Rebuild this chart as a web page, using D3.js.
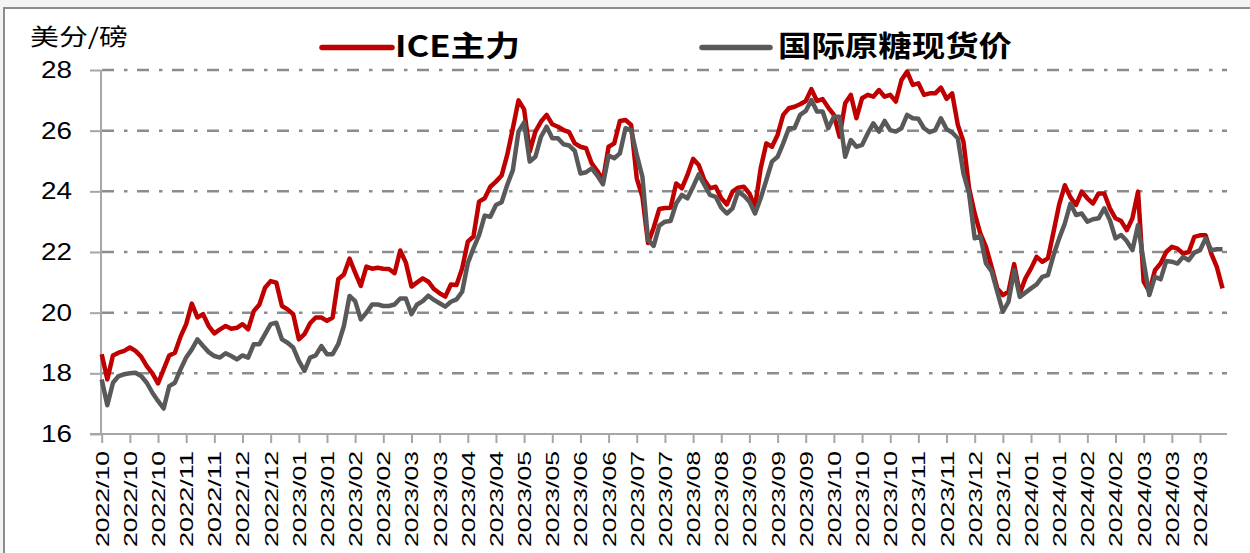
<!DOCTYPE html>
<html>
<head>
<meta charset="utf-8">
<script src="https://cdn.jsdelivr.net/npm/d3@7/dist/d3.min.js"></script>
<style>
  body { margin: 0; background: #f3f3f3; }
  svg { display: block; }
</style>
</head>
<body>
<div id="chart"></div>
<script>
// values, 5 points per axis tick
const iceMain = [
  18.63, 17.80, 18.59, 18.68, 18.74, 18.85, 18.74, 18.55, 18.24, 18.00,
  17.67, 18.13, 18.59, 18.68, 19.21, 19.62, 20.30, 19.84, 19.95, 19.56,
  19.32, 19.45, 19.56, 19.47, 19.50, 19.62, 19.45, 20.05, 20.27, 20.82,
  21.04, 20.99, 20.22, 20.11, 19.95, 19.12, 19.29, 19.65, 19.84, 19.84,
  19.73, 19.84, 21.10, 21.26, 21.78, 21.32, 20.88, 21.52, 21.45, 21.48,
  21.45, 21.44, 21.30, 22.05, 21.65, 20.86, 21.00, 21.13, 21.02, 20.78,
  20.64, 20.53, 20.93, 20.91, 21.46, 22.34, 22.51, 23.66, 23.77, 24.15,
  24.32, 24.52, 25.20, 26.08, 27.00, 26.70, 25.31, 25.97, 26.30, 26.52,
  26.21, 26.13, 26.02, 25.95, 25.58, 25.47, 25.42, 24.92, 24.67, 24.37,
  25.47, 25.58, 26.32, 26.35, 26.19, 24.43, 23.82, 22.30, 22.80, 23.42,
  23.45, 23.46, 24.26, 24.10, 24.54, 25.07, 24.87, 24.37, 24.10, 24.15,
  23.77, 23.57, 23.99, 24.12, 24.15, 23.93, 23.49, 24.76, 25.58, 25.47,
  25.86, 26.52, 26.74, 26.79, 26.87, 26.98, 27.37, 26.98, 27.04, 26.76,
  26.52, 25.80, 26.90, 27.18, 26.41, 27.07, 27.18, 27.12, 27.34, 27.12,
  27.18, 26.96, 27.67, 27.95, 27.51, 27.56, 27.18, 27.23, 27.23, 27.42,
  27.05, 27.23, 26.19, 25.64, 24.10, 23.27, 22.61, 22.17, 21.51, 20.80,
  20.58, 20.69, 21.60, 20.63, 21.13, 21.46, 21.84, 21.68, 21.79, 22.67,
  23.57, 24.20, 23.80, 23.55, 23.99, 23.77, 23.60, 23.93, 23.93, 23.44,
  23.11, 23.02, 22.72, 23.11, 23.99, 21.02, 20.69, 21.40, 21.62, 22.00,
  22.17, 22.11, 21.95, 22.00, 22.50, 22.55, 22.55, 21.95, 21.50, 20.80
]

const spotPrice = [
  17.80, 16.95, 17.69, 17.91, 17.97, 18.00, 18.02, 17.91, 17.69, 17.36,
  17.09, 16.84, 17.58, 17.69, 18.13, 18.52, 18.79, 19.12, 18.90, 18.70,
  18.57, 18.52, 18.66, 18.57, 18.46, 18.59, 18.52, 18.96, 18.96, 19.29,
  19.62, 19.67, 19.12, 19.01, 18.85, 18.41, 18.08, 18.52, 18.59, 18.90,
  18.63, 18.63, 18.96, 19.56, 20.55, 20.38, 19.78, 20.00, 20.27, 20.27,
  20.22, 20.22, 20.27, 20.47, 20.47, 19.95, 20.27, 20.38, 20.56, 20.42,
  20.31, 20.20, 20.36, 20.44, 20.69, 21.63, 22.12, 22.56, 23.20, 23.16,
  23.55, 23.64, 24.21, 24.70, 25.97, 26.27, 24.98, 25.14, 25.80, 26.13,
  25.75, 25.75, 25.55, 25.51, 25.33, 24.59, 24.63, 24.76, 24.52, 24.23,
  25.18, 25.09, 25.25, 26.08, 26.02, 25.20, 24.48, 22.40, 22.20, 22.87,
  23.00, 23.02, 23.60, 23.88, 23.77, 24.15, 24.56, 24.21, 23.88, 23.82,
  23.46, 23.27, 23.44, 23.99, 23.86, 23.66, 23.27, 23.77, 24.37, 24.98,
  25.14, 25.58, 26.08, 26.08, 26.52, 26.65, 27.01, 26.63, 26.63, 26.08,
  26.46, 26.46, 25.14, 25.69, 25.47, 25.53, 25.91, 26.24, 25.97, 26.32,
  26.02, 25.97, 26.08, 26.52, 26.41, 26.39, 26.08, 25.95, 26.02, 26.41,
  26.05, 25.94, 25.75, 24.59, 23.93, 22.45, 22.53, 21.62, 21.37, 20.69,
  20.03, 20.36, 21.40, 20.52, 20.66, 20.80, 20.93, 21.18, 21.24, 21.90,
  22.45, 22.94, 23.60, 23.22, 23.27, 23.00, 23.08, 23.11, 23.44, 23.05,
  22.45, 22.56, 22.36, 22.06, 22.89, 21.68, 20.58, 21.18, 21.10, 21.70,
  21.68, 21.62, 21.84, 21.73, 21.98, 22.06, 22.45, 22.06, 22.09, 22.09
]

const tickLabels = [
  '2022/10', '2022/10', '2022/10', '2022/11', '2022/11', '2022/12', '2022/12',
  '2023/01', '2023/01', '2023/02', '2023/02', '2023/03', '2023/03', '2023/04',
  '2023/04', '2023/05', '2023/05', '2023/06', '2023/06', '2023/07', '2023/07',
  '2023/08', '2023/08', '2023/09', '2023/09', '2023/09', '2023/10', '2023/10',
  '2023/10', '2023/11', '2023/11', '2023/12', '2023/12', '2024/01', '2024/01',
  '2024/02', '2024/02', '2024/03', '2024/03', '2024/03'
]

const yTicks = [16, 18, 20, 22, 24, 26, 28]

const seriesNames = ['ICE主力', '国际原糖现货价']
const seriesColors = ['#C00000', '#595959']

const width = 1250
const height = 553

const svg = d3
  .select('#chart')
  .append('svg')
  .attr('width', width)
  .attr('height', height)

// frame of the picture
svg
  .append('rect')
  .attr('x', 4)
  .attr('y', 8)
  .attr('width', 1260)
  .attr('height', 560)
  .attr('fill', '#fff')
  .attr('stroke', '#8c8c8c')
  .attr('stroke-width', 2)

const xPositionScale = d3
  .scaleLinear()
  .domain([0, (tickLabels.length - 1) * 5])
  .range([101.7, 1200])

const yPositionScale = d3
  .scaleLinear()
  .domain([16, 28])
  .range([434, 70])

// grid lines

svg
  .append('g')
  .attr('class', 'grid')
  .selectAll('line')
  .data(yTicks.filter(d => d > 16))
  .enter()
  .append('line')
  .attr('x1', 102)
  .attr('x2', 1227)
  .attr('y1', d => yPositionScale(d))
  .attr('y2', d => yPositionScale(d))
  .attr('stroke', '#8c8c8c')
  .attr('stroke-width', 2.5)
  .attr('stroke-dasharray', '12,10,3.5,9.5')

// axes

const yAxis = d3
  .axisLeft(yPositionScale)
  .tickValues(yTicks)
  .tickSize(11)
  .tickPadding(18)

const yAxisG = svg
  .append('g')
  .attr('class', 'axis y-axis')
  .attr('transform', 'translate(101,0)')
  .call(yAxis)

yAxisG.select('.domain').remove()
yAxisG.selectAll('line').attr('stroke', '#a6a6a6').attr('stroke-width', 2)
yAxisG
  .selectAll('text')
  .attr('font-family', 'Liberation Sans, Arial, sans-serif')
  .attr('font-size', 23)
  .attr('fill', '#000')
  .attr('textLength', 31)
  .attr('lengthAdjust', 'spacingAndGlyphs')

const xAxis = d3
  .axisBottom(xPositionScale)
  .tickValues(d3.range(0, tickLabels.length * 5, 5))
  .tickFormat(d => tickLabels[d / 5])
  .tickSize(9)

const xAxisG = svg
  .append('g')
  .attr('class', 'axis x-axis')
  .attr('transform', 'translate(0,434)')
  .call(xAxis)

xAxisG.select('.domain').remove()
xAxisG.selectAll('line').attr('stroke', '#a6a6a6').attr('stroke-width', 2)
xAxisG
  .selectAll('text')
  .attr('transform', 'rotate(-90)')
  .attr('x', -17)
  .attr('y', 0)
  .attr('dy', '0.36em')
  .attr('text-anchor', 'end')
  .attr('font-family', 'Liberation Sans, Arial, sans-serif')
  .attr('font-size', 18)
  .attr('fill', '#000')
  .attr('textLength', 96)
  .attr('lengthAdjust', 'spacingAndGlyphs')

svg
  .append('line')
  .attr('x1', 101)
  .attr('x2', 101)
  .attr('y1', 70)
  .attr('y2', 434)
  .attr('stroke', '#a6a6a6')
  .attr('stroke-width', 2)

svg
  .append('line')
  .attr('x1', 90)
  .attr('x2', 1227)
  .attr('y1', 434)
  .attr('y2', 434)
  .attr('stroke', '#a6a6a6')
  .attr('stroke-width', 2)

// unit label

svg
  .append('text')
  .attr('x', 30)
  .attr('y', 45)
  .attr('font-family', 'Noto Sans CJK SC, sans-serif')
  .attr('font-size', 23)
  .attr('fill', '#000')
  .attr('textLength', 98)
  .attr('lengthAdjust', 'spacingAndGlyphs')
  .text('美分/磅')

// lines, grey drawn over red

const line = d3
  .line()
  .x((d, i) => xPositionScale(i))
  .y(d => yPositionScale(d))

;[iceMain, spotPrice].forEach((values, k) => {
  svg
    .append('path')
    .datum(values)
    .attr('d', line)
    .attr('fill', 'none')
    .attr('stroke', seriesColors[k])
    .attr('stroke-width', 4.5)
    .attr('stroke-linejoin', 'round')
})

// legend

const legendItems = [
  { x1: 322, x2: 392, tx: 395, len: 125 },
  { x1: 702, x2: 770, tx: 778, len: 234 }
]

legendItems.forEach((item, k) => {
  svg
    .append('line')
    .attr('x1', item.x1)
    .attr('x2', item.x2)
    .attr('y1', 47.5)
    .attr('y2', 47.5)
    .attr('stroke', seriesColors[k])
    .attr('stroke-width', 5.5)
    .attr('stroke-linecap', 'round')

  svg
    .append('text')
    .attr('x', item.tx)
    .attr('y', 57)
    .attr('font-family', 'Noto Sans CJK SC, sans-serif')
    .attr('font-weight', 'bold')
    .attr('font-size', 29)
    .attr('fill', '#000')
    .attr('textLength', item.len)
    .attr('lengthAdjust', 'spacingAndGlyphs')
    .text(seriesNames[k])
})
</script>
</body>
</html>
